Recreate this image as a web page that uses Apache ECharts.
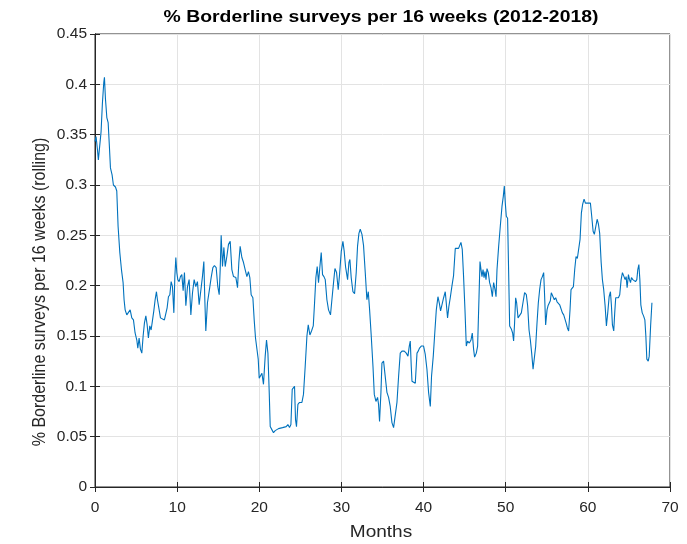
<!DOCTYPE html>
<html>
<head>
<meta charset="utf-8">
<script src="https://cdn.jsdelivr.net/npm/echarts@6/dist/echarts.min.js"></script>
<style>
html,body{margin:0;padding:0;background:#fff;}
#chart{width:687px;height:544px;}
</style>
</head>
<body>
<div id="chart"></div>
<script>
const titleText = '% Borderline surveys per 16 weeks (2012-2018)';
const xName = 'Months';
const yName = '% Borderline surveys per 16 weeks (rolling)';

const months = [
0.0,0.13,0.3,0.41,0.62,0.74,0.9,1.07,1.15,1.27,1.44,1.6,1.76,1.88,2.08,2.24,2.49,2.65,2.81,3.02,
3.22,3.42,3.54,3.67,3.87,4.07,4.28,4.48,4.68,4.88,5.09,5.21,5.37,5.53,5.7,5.86,6.02,6.19,6.35,6.5,
6.67,6.83,6.99,7.16,7.32,7.48,7.6,7.77,7.97,8.21,8.45,8.62,8.78,8.94,9.11,9.27,9.43,9.6,9.72,9.84,
9.96,10.08,10.24,10.4,10.57,10.73,10.89,11.06,11.26,11.46,11.67,11.87,12.07,12.27,12.47,12.68,12.88,13.08,13.25,13.37,
13.49,13.69,13.93,14.14,14.35,14.54,14.75,14.95,15.12,15.24,15.36,15.52,15.69,15.85,16.05,16.25,16.46,16.66,16.86,17.15,
17.35,17.51,17.67,17.88,18.08,18.28,18.49,18.68,18.85,19.01,19.22,19.38,19.54,19.7,19.87,19.99,20.2,20.32,20.51,20.72,
20.88,21.05,21.21,21.33,21.53,21.73,21.94,22.14,22.34,22.55,22.83,23.07,23.28,23.48,23.68,23.85,24.01,24.17,24.29,24.41,
24.53,24.7,24.9,25.19,25.38,25.59,25.8,25.96,26.16,26.36,26.57,26.73,26.89,27.05,27.21,27.38,27.54,27.7,27.87,28.03,
28.23,28.43,28.67,28.84,29.04,29.21,29.41,29.61,29.77,29.98,30.18,30.34,30.5,30.75,30.91,31.03,31.19,31.4,31.6,31.8,
31.96,32.13,32.29,32.5,32.69,32.9,33.1,33.27,33.43,33.63,33.84,34.0,34.2,34.4,34.52,34.64,34.81,34.93,35.13,35.37,
35.54,35.74,35.94,36.15,36.35,36.55,36.76,36.96,37.16,37.37,37.65,37.89,38.1,38.26,38.38,38.5,38.59,38.78,38.99,39.2,
39.35,39.51,39.72,40.0,40.2,40.41,40.61,40.82,40.97,41.18,41.34,41.55,41.75,41.91,42.07,42.28,42.44,42.64,42.76,42.92,
43.09,43.25,43.46,43.65,43.86,44.07,44.26,44.55,44.71,44.87,45.04,45.2,45.36,45.57,45.77,45.93,46.09,46.21,46.42,46.58,
46.75,46.87,46.99,47.11,47.24,47.36,47.48,47.6,47.72,47.88,48.04,48.21,48.37,48.53,48.7,48.82,48.94,49.14,49.34,49.55,
49.71,49.83,49.95,50.07,50.23,50.35,50.48,50.68,50.84,50.96,51.08,51.21,51.33,51.5,51.69,51.9,52.1,52.3,52.51,52.67,
52.84,53.0,53.16,53.33,53.49,53.65,53.81,53.97,54.13,54.3,54.46,54.62,54.74,54.86,55.03,55.15,55.31,55.43,55.55,55.76,
55.92,56.08,56.25,56.4,56.57,56.74,56.9,57.06,57.18,57.35,57.51,57.66,57.83,57.95,58.08,58.24,58.4,58.56,58.72,58.88,
59.05,59.21,59.37,59.54,59.7,59.86,60.03,60.19,60.31,60.47,60.64,60.79,60.96,61.13,61.29,61.44,61.62,61.77,61.93,62.1,
62.26,62.42,62.59,62.75,62.87,62.99,63.15,63.27,63.39,63.56,63.72,63.88,64.05,64.21,64.37,64.54,64.66,64.78,64.94,65.07,
65.19,65.31,65.47,65.64,65.8,65.96,66.08,66.21,66.33,66.45,66.62,66.78,66.94,67.06,67.18,67.35,67.47,67.64,67.8
];

const share = [
0.343,0.348,0.335,0.325,0.324,0.353,0.381,0.402,0.407,0.386,0.367,0.362,0.337,0.317,0.310,0.300,0.298,0.294,0.259,0.233,
0.216,0.203,0.186,0.176,0.171,0.170,0.176,0.168,0.166,0.153,0.146,0.138,0.148,0.137,0.133,0.150,0.163,0.170,0.161,0.148,
0.160,0.156,0.165,0.175,0.186,0.194,0.186,0.178,0.168,0.167,0.166,0.166,0.178,0.189,0.191,0.204,0.199,0.173,0.209,0.228,
0.213,0.206,0.204,0.209,0.211,0.195,0.213,0.180,0.199,0.206,0.171,0.193,0.206,0.199,0.204,0.181,0.180,0.209,0.224,0.186,
0.155,0.183,0.196,0.208,0.218,0.220,0.218,0.199,0.191,0.216,0.250,0.219,0.238,0.219,0.229,0.241,0.244,0.216,0.209,0.208,
0.198,0.223,0.239,0.228,0.223,0.216,0.209,0.214,0.208,0.191,0.188,0.166,0.148,0.148,0.127,0.108,0.108,0.113,0.102,0.130,
0.146,0.133,0.094,0.060,0.057,0.054,0.056,0.056,0.058,0.058,0.059,0.058,0.060,0.062,0.059,0.062,0.097,0.098,0.100,0.067,
0.060,0.082,0.084,0.084,0.092,0.120,0.150,0.161,0.151,0.155,0.160,0.183,0.208,0.219,0.203,0.219,0.233,0.211,0.209,0.206,
0.186,0.176,0.171,0.186,0.203,0.217,0.213,0.196,0.211,0.234,0.244,0.234,0.219,0.206,0.223,0.226,0.208,0.194,0.192,0.213,
0.239,0.252,0.256,0.251,0.240,0.213,0.186,0.194,0.176,0.150,0.120,0.092,0.085,0.089,0.082,0.065,0.094,0.123,0.125,0.124,
0.094,0.089,0.080,0.064,0.059,0.059,0.084,0.110,0.133,0.135,0.135,0.133,0.130,0.140,0.145,0.120,0.105,0.104,0.103,0.133,
0.135,0.138,0.140,0.140,0.132,0.117,0.094,0.080,0.110,0.130,0.150,0.176,0.189,0.183,0.175,0.176,0.188,0.194,0.183,0.168,
0.180,0.188,0.200,0.210,0.237,0.237,0.237,0.243,0.236,0.209,0.176,0.140,0.145,0.143,0.146,0.153,0.137,0.129,0.133,0.140,
0.189,0.224,0.216,0.209,0.216,0.208,0.214,0.206,0.217,0.213,0.203,0.198,0.189,0.203,0.196,0.189,0.216,0.239,0.259,0.279,
0.289,0.299,0.282,0.269,0.267,0.216,0.160,0.157,0.153,0.145,0.163,0.188,0.183,0.168,0.168,0.173,0.183,0.193,0.191,0.180,
0.156,0.146,0.133,0.117,0.117,0.140,0.163,0.183,0.196,0.206,0.209,0.213,0.189,0.161,0.176,0.180,0.179,0.185,0.193,0.194,
0.186,0.188,0.184,0.184,0.181,0.180,0.173,0.171,0.170,0.163,0.158,0.155,0.176,0.196,0.196,0.199,0.216,0.229,0.227,0.226,
0.246,0.272,0.281,0.286,0.282,0.281,0.282,0.281,0.282,0.269,0.254,0.251,0.251,0.266,0.261,0.252,0.223,0.206,0.196,0.180,
0.160,0.173,0.189,0.194,0.180,0.161,0.155,0.173,0.188,0.189,0.188,0.191,0.206,0.213,0.214,0.206,0.209,0.198,0.211,0.206,
0.203,0.208,0.206,0.206,0.204,0.206,0.216,0.221,0.206,0.181,0.173,0.170,0.166,0.150,0.127,0.125,0.130,0.160,0.183
];

const xTicks = [0, 10, 20, 30, 40, 50, 60, 70];
const yTicks = [0, 0.05, 0.1, 0.15, 0.2, 0.25, 0.3, 0.35, 0.4, 0.45];

const pts = months.map((m, i) => [m, share[i]]);
const textColor = '#262626';
const font = 'Liberation Sans, Arial, Helvetica, sans-serif';

const chart = echarts.init(document.getElementById('chart'), null, {renderer: 'canvas'});
chart.setOption({
  animation: false,
  backgroundColor: '#ffffff',
  graphic: [{
    type: 'text', x: 381, y: 18, scaleX: 1.21, silent: true,
    style: {text: titleText, fontFamily: font, fontSize: 16, fontWeight: 'bold', fill: '#000',
      textAlign: 'center', textVerticalAlign: 'middle', align: 'center', verticalAlign: 'middle'}
  }, {
    type: 'text', x: 381, y: 532, scaleX: 1.12, silent: true,
    style: {text: xName, fontFamily: font, fontSize: 17, fill: textColor,
      textAlign: 'center', textVerticalAlign: 'middle', align: 'center', verticalAlign: 'middle'}
  }, {
    type: 'text', x: 40, y: 292, rotation: Math.PI / 2, scaleY: 1.12, silent: true,
    style: {text: yName, fontFamily: font, fontSize: 16, fill: textColor,
      textAlign: 'center', textVerticalAlign: 'middle', align: 'center', verticalAlign: 'middle'}
  }],
  grid: {
    left: 95, right: 17, top: 34, bottom: 57,
    show: true, borderColor: textColor, borderWidth: 1, backgroundColor: 'transparent'
  },
  xAxis: [{
    type: 'value',
    min: xTicks[0], max: xTicks[xTicks.length - 1], interval: 10,
    axisLine: {show: true, onZero: false, lineStyle: {color: textColor}},
    axisTick: {show: true, inside: true, length: 5, lineStyle: {color: textColor}},
    axisLabel: {fontFamily: font, fontSize: 15.5, color: textColor, margin: 13},
    splitLine: {show: true, lineStyle: {color: '#e3e3e3', width: 1}}
  }, {
    type: 'value', position: 'top',
    min: xTicks[0], max: xTicks[xTicks.length - 1], interval: 10,
    axisLine: {show: true, lineStyle: {color: textColor}},
    axisTick: {show: true, inside: true, length: 5, lineStyle: {color: textColor}},
    axisLabel: {show: false}, splitLine: {show: false}
  }],
  yAxis: [{
    type: 'value',
    min: yTicks[0], max: yTicks[yTicks.length - 1], interval: 0.05,
    axisLine: {show: true, onZero: false, lineStyle: {color: textColor}},
    axisTick: {show: true, inside: true, length: 5, lineStyle: {color: textColor}},
    axisLabel: {fontFamily: font, fontSize: 15.5, color: textColor, margin: 8,
      padding: [4, 0, 0, 0],
      formatter: v => String(Math.round(v * 100) / 100)},
    splitLine: {show: true, lineStyle: {color: '#e3e3e3', width: 1}}
  }, {
    type: 'value', position: 'right',
    min: yTicks[0], max: yTicks[yTicks.length - 1], interval: 0.05,
    axisLine: {show: true, lineStyle: {color: textColor}},
    axisTick: {show: true, inside: true, length: 5, lineStyle: {color: textColor}},
    axisLabel: {show: false}, splitLine: {show: false}
  }],
  series: [{
    type: 'line',
    data: pts,
    xAxisIndex: 0, yAxisIndex: 0,
    showSymbol: false,
    symbol: 'none',
    lineStyle: {color: '#0072BD', width: 1.1},
    silent: true
  }]
});
</script>
</body>
</html>
